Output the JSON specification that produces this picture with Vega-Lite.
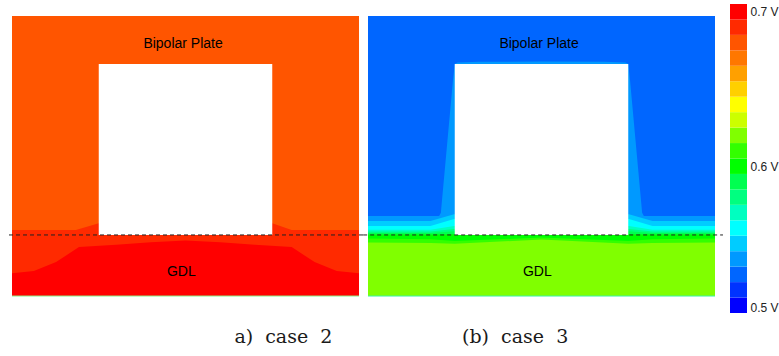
{
  "$schema": "https://vega.github.io/schema/vega-lite/v6.json",
  "background": "white",
  "padding": {"left": 8, "top": 4, "right": 0, "bottom": 0},
  "config": {"view": {"stroke": null}},
  "datasets": {
    "plate_a": [{"x0": 0, "x1": 1000, "y0": 0, "y1": 807, "volt": 0.675}],
    "plate_b": [{"x0": 0, "x1": 1000, "y0": 0, "y1": 807, "volt": 0.525}],
    "channel": [{"x0": 250, "x1": 750, "y0": 176, "y1": 669}],
    "bands_a": [
      {"volt": 0.685, "x": 0, "y": 190}, {"volt": 0.685, "x": 184, "y": 190}, {"volt": 0.685, "x": 250, "y": 210},
      {"volt": 0.685, "x": 750, "y": 210}, {"volt": 0.685, "x": 806, "y": 190}, {"volt": 0.685, "x": 1000, "y": 190},
      {"volt": 0.695, "x": 0, "y": 66}, {"volt": 0.695, "x": 63, "y": 72}, {"volt": 0.695, "x": 127, "y": 98},
      {"volt": 0.695, "x": 193, "y": 141}, {"volt": 0.695, "x": 300, "y": 148}, {"volt": 0.695, "x": 400, "y": 155},
      {"volt": 0.695, "x": 500, "y": 160}, {"volt": 0.695, "x": 600, "y": 155}, {"volt": 0.695, "x": 700, "y": 148},
      {"volt": 0.695, "x": 806, "y": 141}, {"volt": 0.695, "x": 872, "y": 98}, {"volt": 0.695, "x": 936, "y": 72},
      {"volt": 0.695, "x": 1000, "y": 66}
    ],
    "bands_b": [
      {"volt": 0.535, "x": 0, "y": 230.6}, {"volt": 0.535, "x": 205, "y": 230.6}, {"volt": 0.535, "x": 210, "y": 240},
      {"volt": 0.535, "x": 245, "y": 623}, {"volt": 0.535, "x": 250, "y": 669}, {"volt": 0.535, "x": 258, "y": 673},
      {"volt": 0.535, "x": 320, "y": 675}, {"volt": 0.535, "x": 500, "y": 676}, {"volt": 0.535, "x": 680, "y": 675},
      {"volt": 0.535, "x": 742, "y": 673}, {"volt": 0.535, "x": 750, "y": 669}, {"volt": 0.535, "x": 755, "y": 623},
      {"volt": 0.535, "x": 790, "y": 240}, {"volt": 0.535, "x": 795, "y": 230.6}, {"volt": 0.535, "x": 1000, "y": 230.6},
      {"volt": 0.545, "x": 0, "y": 216}, {"volt": 0.545, "x": 180, "y": 216}, {"volt": 0.545, "x": 248, "y": 236},
      {"volt": 0.545, "x": 752, "y": 236}, {"volt": 0.545, "x": 820, "y": 216}, {"volt": 0.545, "x": 1000, "y": 216},
      {"volt": 0.555, "x": 0, "y": 202}, {"volt": 0.555, "x": 180, "y": 202}, {"volt": 0.555, "x": 248, "y": 222},
      {"volt": 0.555, "x": 752, "y": 222}, {"volt": 0.555, "x": 820, "y": 202}, {"volt": 0.555, "x": 1000, "y": 202},
      {"volt": 0.565, "x": 0, "y": 191}, {"volt": 0.565, "x": 180, "y": 191}, {"volt": 0.565, "x": 248, "y": 202},
      {"volt": 0.565, "x": 752, "y": 202}, {"volt": 0.565, "x": 820, "y": 191}, {"volt": 0.565, "x": 1000, "y": 191},
      {"volt": 0.575, "x": 0, "y": 186}, {"volt": 0.575, "x": 180, "y": 186}, {"volt": 0.575, "x": 248, "y": 193},
      {"volt": 0.575, "x": 752, "y": 193}, {"volt": 0.575, "x": 820, "y": 186}, {"volt": 0.575, "x": 1000, "y": 186},
      {"volt": 0.585, "x": 0, "y": 181.6}, {"volt": 0.585, "x": 180, "y": 181.6}, {"volt": 0.585, "x": 248, "y": 187},
      {"volt": 0.585, "x": 752, "y": 187}, {"volt": 0.585, "x": 820, "y": 181.6}, {"volt": 0.585, "x": 1000, "y": 181.6},
      {"volt": 0.595, "x": 0, "y": 177}, {"volt": 0.595, "x": 180, "y": 177}, {"volt": 0.595, "x": 248, "y": 178},
      {"volt": 0.595, "x": 752, "y": 178}, {"volt": 0.595, "x": 820, "y": 177}, {"volt": 0.595, "x": 1000, "y": 177},
      {"volt": 0.605, "x": 0, "y": 165.7}, {"volt": 0.605, "x": 180, "y": 164}, {"volt": 0.605, "x": 250, "y": 158.5},
      {"volt": 0.605, "x": 500, "y": 168.6}, {"volt": 0.605, "x": 750, "y": 158.5}, {"volt": 0.605, "x": 820, "y": 164},
      {"volt": 0.605, "x": 1000, "y": 165.7},
      {"volt": 0.615, "x": 0, "y": 154}, {"volt": 0.615, "x": 180, "y": 153}, {"volt": 0.615, "x": 250, "y": 151},
      {"volt": 0.615, "x": 500, "y": 162.8}, {"volt": 0.615, "x": 750, "y": 151}, {"volt": 0.615, "x": 820, "y": 153},
      {"volt": 0.615, "x": 1000, "y": 154}
    ],
    "labels": [
      {"x": 493, "y": 715, "text": "Bipolar Plate"},
      {"x": 488, "y": 57.6, "text": "GDL"}
    ],
    "caption_a": [{"x": 782, "y": -134.6, "text": "a)\u00a0 case\u00a0 2"}],
    "caption_b": [{"x": 424, "y": -134.6, "text": "(b)\u00a0 case\u00a0 3"}],
    "colorbar": [
      {"lo": 0.50, "hi": 0.51, "volt": 0.505}, {"lo": 0.51, "hi": 0.52, "volt": 0.515},
      {"lo": 0.52, "hi": 0.53, "volt": 0.525}, {"lo": 0.53, "hi": 0.54, "volt": 0.535},
      {"lo": 0.54, "hi": 0.55, "volt": 0.545}, {"lo": 0.55, "hi": 0.56, "volt": 0.555},
      {"lo": 0.56, "hi": 0.57, "volt": 0.565}, {"lo": 0.57, "hi": 0.58, "volt": 0.575},
      {"lo": 0.58, "hi": 0.59, "volt": 0.585}, {"lo": 0.59, "hi": 0.60, "volt": 0.595},
      {"lo": 0.60, "hi": 0.61, "volt": 0.605}, {"lo": 0.61, "hi": 0.62, "volt": 0.615},
      {"lo": 0.62, "hi": 0.63, "volt": 0.625}, {"lo": 0.63, "hi": 0.64, "volt": 0.635},
      {"lo": 0.64, "hi": 0.65, "volt": 0.645}, {"lo": 0.65, "hi": 0.66, "volt": 0.655},
      {"lo": 0.66, "hi": 0.67, "volt": 0.665}, {"lo": 0.67, "hi": 0.68, "volt": 0.675},
      {"lo": 0.68, "hi": 0.69, "volt": 0.685}, {"lo": 0.69, "hi": 0.70, "volt": 0.695}
    ]
  },
  "resolve": {"scale": {"x": "independent", "y": "independent", "color": "shared"}},
  "bounds": "flush",
  "spacing": 9,
  "hconcat": [
    {
      "width": 350,
      "height": 352,
      "layer": [
        {
          "data": {"name": "plate_a"},
          "mark": {"type": "rect"},
          "encoding": {
            "x": {"field": "x0", "type": "quantitative", "scale": {"domain": [-8.65, 1000], "nice": false, "zero": false}, "axis": null},
            "x2": {"field": "x1"},
            "y": {"field": "y0", "type": "quantitative", "scale": {"domain": [-172.8, 841.6], "nice": false, "zero": false}, "axis": null},
            "y2": {"field": "y1"},
            "color": {"field": "volt", "type": "quantitative", "legend": null,
              "scale": {"type": "quantize", "domain": [0.5, 0.7], "nice": false, "zero": false,
                "range": ["#0000FF","#0033FF","#0066FF","#0099FF","#00CCFF","#00FFFF","#00FFC0","#00FF80","#00FF50","#00FF00","#33FF00","#80FF00","#CCFF00","#FFFF00","#FFD000","#FFA000","#FF7700","#FF5500","#FF2A00","#FF0000"]}}
          }
        },
        {
          "data": {"name": "bands_a"},
          "mark": {"type": "area", "interpolate": "linear"},
          "encoding": {
            "x": {"field": "x", "type": "quantitative"},
            "y": {"field": "y", "type": "quantitative"},
            "y2": {"datum": 0},
            "color": {"field": "volt", "type": "quantitative", "legend": null,
              "scale": {"type": "quantize", "domain": [0.5, 0.7], "nice": false, "zero": false,
                "range": ["#0000FF","#0033FF","#0066FF","#0099FF","#00CCFF","#00FFFF","#00FFC0","#00FF80","#00FF50","#00FF00","#33FF00","#80FF00","#CCFF00","#FFFF00","#FFD000","#FFA000","#FF7700","#FF5500","#FF2A00","#FF0000"]}}
          }
        },
        {
          "data": {"name": "plate_a"},
          "mark": {"type": "rule", "color": "#8CF58C", "strokeWidth": 1},
          "encoding": {
            "x": {"field": "x0", "type": "quantitative"},
            "x2": {"field": "x1"},
            "y": {"field": "y0", "type": "quantitative"}
          }
        },
        {
          "data": {"name": "channel"},
          "mark": {"type": "rect", "color": "white"},
          "encoding": {
            "x": {"field": "x0", "type": "quantitative"},
            "x2": {"field": "x1"},
            "y": {"field": "y0", "type": "quantitative"},
            "y2": {"field": "y1"}
          }
        },
        {
          "data": {"name": "channel"},
          "mark": {"type": "rule", "strokeDash": [4, 3], "color": "#222222", "strokeWidth": 1},
          "encoding": {
            "x": {"datum": -8.65, "type": "quantitative"},
            "x2": {"datum": 1012},
            "y": {"field": "y0", "type": "quantitative"}
          }
        },
        {
          "data": {"name": "labels"},
          "mark": {"type": "text", "font": "Liberation Sans", "fontSize": 14, "color": "black", "align": "center", "baseline": "alphabetic"},
          "encoding": {
            "x": {"field": "x", "type": "quantitative"},
            "y": {"field": "y", "type": "quantitative"},
            "text": {"field": "text"}
          }
        },
        {
          "data": {"name": "caption_a"},
          "mark": {"type": "text", "font": "DejaVu Serif", "fontSize": 19, "color": "#1a1a1a", "align": "center", "baseline": "alphabetic"},
          "encoding": {
            "x": {"field": "x", "type": "quantitative"},
            "y": {"field": "y", "type": "quantitative"},
            "text": {"field": "text"}
          }
        }
      ]
    },
    {
      "width": 347,
      "height": 352,
      "layer": [
        {
          "data": {"name": "plate_b"},
          "mark": {"type": "rect"},
          "encoding": {
            "x": {"field": "x0", "type": "quantitative", "scale": {"domain": [0, 1000], "nice": false, "zero": false}, "axis": null},
            "x2": {"field": "x1"},
            "y": {"field": "y0", "type": "quantitative", "scale": {"domain": [-172.8, 841.6], "nice": false, "zero": false}, "axis": null},
            "y2": {"field": "y1"},
            "color": {"field": "volt", "type": "quantitative", "legend": null,
              "scale": {"type": "quantize", "domain": [0.5, 0.7], "nice": false, "zero": false,
                "range": ["#0000FF","#0033FF","#0066FF","#0099FF","#00CCFF","#00FFFF","#00FFC0","#00FF80","#00FF50","#00FF00","#33FF00","#80FF00","#CCFF00","#FFFF00","#FFD000","#FFA000","#FF7700","#FF5500","#FF2A00","#FF0000"]}}
          }
        },
        {
          "data": {"name": "bands_b"},
          "mark": {"type": "area", "interpolate": "linear"},
          "encoding": {
            "x": {"field": "x", "type": "quantitative"},
            "y": {"field": "y", "type": "quantitative"},
            "y2": {"datum": 0},
            "color": {"field": "volt", "type": "quantitative", "legend": null,
              "scale": {"type": "quantize", "domain": [0.5, 0.7], "nice": false, "zero": false,
                "range": ["#0000FF","#0033FF","#0066FF","#0099FF","#00CCFF","#00FFFF","#00FFC0","#00FF80","#00FF50","#00FF00","#33FF00","#80FF00","#CCFF00","#FFFF00","#FFD000","#FFA000","#FF7700","#FF5500","#FF2A00","#FF0000"]}}
          }
        },
        {
          "data": {"name": "plate_b"},
          "mark": {"type": "rule", "color": "#3CF5A8", "strokeWidth": 1},
          "encoding": {
            "x": {"field": "x0", "type": "quantitative"},
            "x2": {"field": "x1"},
            "y": {"field": "y0", "type": "quantitative"}
          }
        },
        {
          "data": {"name": "channel"},
          "mark": {"type": "rect", "color": "white"},
          "encoding": {
            "x": {"field": "x0", "type": "quantitative"},
            "x2": {"field": "x1"},
            "y": {"field": "y0", "type": "quantitative"},
            "y2": {"field": "y1"}
          }
        },
        {
          "data": {"name": "channel"},
          "mark": {"type": "rule", "strokeDash": [4, 3], "color": "#222222", "strokeWidth": 1},
          "encoding": {
            "x": {"datum": -14, "type": "quantitative"},
            "x2": {"datum": 1023},
            "y": {"field": "y0", "type": "quantitative"}
          }
        },
        {
          "data": {"name": "labels"},
          "mark": {"type": "text", "font": "Liberation Sans", "fontSize": 14, "color": "black", "align": "center", "baseline": "alphabetic"},
          "encoding": {
            "x": {"field": "x", "type": "quantitative"},
            "y": {"field": "y", "type": "quantitative"},
            "text": {"field": "text"}
          }
        },
        {
          "data": {"name": "caption_b"},
          "mark": {"type": "text", "font": "DejaVu Serif", "fontSize": 19, "color": "#1a1a1a", "align": "center", "baseline": "alphabetic"},
          "encoding": {
            "x": {"field": "x", "type": "quantitative"},
            "y": {"field": "y", "type": "quantitative"},
            "text": {"field": "text"}
          }
        }
      ]
    },
    {
      "width": 23,
      "height": 309,
      "data": {"name": "colorbar"},
      "mark": {"type": "rect"},
      "encoding": {
        "x": {"datum": 0, "type": "quantitative", "scale": {"domain": [-0.353, 1], "nice": false, "zero": false}, "axis": null},
        "x2": {"datum": 1},
        "y": {"field": "lo", "type": "quantitative",
          "scale": {"domain": [0.5, 0.7], "nice": false, "zero": false},
          "axis": {"orient": "right", "values": [0.695, 0.595, 0.5035], "labelExpr": "datum.value > 0.69 ? '0.7 V' : datum.value > 0.59 ? '0.6 V' : '0.5 V'",
            "domain": false, "ticks": false, "grid": false, "title": null, "labelPadding": 3, "labelFontSize": 12, "labelFont": "Liberation Sans",
            "labelColor": "#222222", "labelFlush": false, "labelOverlap": false, "labelBound": false, "labelBaseline": "middle"}},
        "y2": {"field": "hi"},
        "color": {"field": "volt", "type": "quantitative", "legend": null,
          "scale": {"type": "quantize", "domain": [0.5, 0.7], "nice": false, "zero": false,
            "range": ["#0000FF","#0033FF","#0066FF","#0099FF","#00CCFF","#00FFFF","#00FFC0","#00FF80","#00FF50","#00FF00","#33FF00","#80FF00","#CCFF00","#FFFF00","#FFD000","#FFA000","#FF7700","#FF5500","#FF2A00","#FF0000"]}}
      }
    }
  ]
}
